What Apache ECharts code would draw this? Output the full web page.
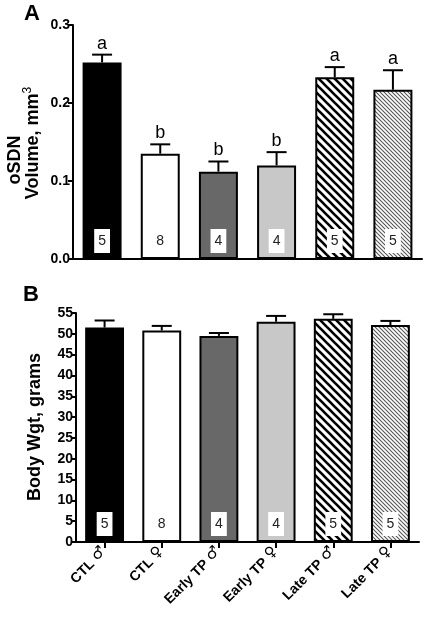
<!DOCTYPE html>
<html><head><meta charset="utf-8">
<script src="https://cdn.jsdelivr.net/npm/echarts@6/dist/echarts.min.js"></script>
<style>html,body{margin:0;padding:0;background:#fff}#c{width:425px;height:625px}</style>
</head><body><div id="c"></div>
<script>
var categories = ['CTL ♂', 'CTL ♀', 'Early TP ♂', 'Early TP ♀', 'Late TP ♂', 'Late TP ♀'];
var volumeMean = [0.252, 0.135, 0.112, 0.120, 0.233, 0.217];
var volumeErr  = [0.010, 0.012, 0.013, 0.017, 0.013, 0.025];
var volumeLetters = ['a', 'b', 'b', 'b', 'a', 'a'];
var weightMean = [51.5, 50.8, 49.5, 52.9, 53.6, 52.1];
var weightErr  = [1.7, 1.1, 0.7, 1.4, 1.1, 1.0];
var groupN = [5, 8, 4, 4, 5, 5];
var volumeTicks = { min: 0, max: 0.3, interval: 0.1 };
var weightTicks = { min: 0, max: 55, interval: 5 };

var FONT = '"Liberation Sans", Arial, sans-serif';
function stripes(size, lw, color) {
  var c = document.createElement('canvas');
  c.width = size; c.height = size;
  var ctx = c.getContext('2d');
  ctx.fillStyle = '#fff'; ctx.fillRect(0, 0, size, size);
  ctx.strokeStyle = color; ctx.lineWidth = lw;
  [-size, 0, size].forEach(function (o) {
    ctx.beginPath(); ctx.moveTo(o - 1, -1); ctx.lineTo(o + size + 1, size + 1); ctx.stroke();
  });
  return { image: c, repeat: 'repeat' };
}
var fills = ['#000', '#fff', '#686868', '#c8c8c8', stripes(8, 2.6, '#000'), stripes(4, 1.1, '#555')];

function barData(vals) {
  return vals.map(function (v, i) {
    return { value: v, itemStyle: { color: fills[i], borderColor: '#000', borderWidth: 2 } };
  });
}
function errData(mean, err) {
  return mean.map(function (m, i) { return [i, m, m + err[i]]; });
}
function errRender(letters) {
  return function (params, api) {
    var i = api.value(0);
    var b = api.coord([i, api.value(1)]);
    var t = api.coord([i, api.value(2)]);
    var ch = [
      { type: 'line', shape: { x1: b[0], y1: b[1], x2: t[0], y2: t[1] }, style: { stroke: '#000', lineWidth: 2 } },
      { type: 'line', shape: { x1: t[0] - 10, y1: t[1], x2: t[0] + 10, y2: t[1] }, style: { stroke: '#000', lineWidth: 2 } }
    ];
    if (letters) {
      ch.push({ type: 'text', x: t[0], y: t[1] - 2,
        style: { text: letters[params.dataIndex], textAlign: 'center', textVerticalAlign: 'bottom',
          font: '18px ' + FONT, fill: '#000' } });
    }
    return { type: 'group', children: ch };
  };
}
var nLabel = {
  show: true, position: 'insideBottom', distance: 6,
  formatter: function (p) { return String(groupN[p.dataIndex]); },
  backgroundColor: '#fff', padding: [5, 4, 5, 4], color: '#222',
  fontSize: 14, fontFamily: FONT
};
var axisLineStyle = { lineStyle: { color: '#000', width: 2 } };
var yLabel = { color: '#000', fontWeight: 'bold', fontSize: 14, margin: 3, fontFamily: FONT };

var chart = echarts.init(document.getElementById('c'));
chart.setOption({
  animation: false,
  grid: [
    { left: 73, right: 3, top: 25, height: 234 },
    { left: 76, right: 6, top: 313, height: 229 }
  ],
  xAxis: [
    { gridIndex: 0, type: 'category', data: categories, axisLine: axisLineStyle, axisTick: { show: false }, axisLabel: { show: false } },
    { gridIndex: 1, type: 'category', data: categories, axisLine: axisLineStyle,
      axisTick: { show: true, alignWithLabel: true, length: 6, lineStyle: { width: 2, color: '#000' } },
      axisLabel: { rotate: 45, margin: 8, interval: 0,
        formatter: function (v) {
          var k = v.lastIndexOf(' ');
          return '{t|' + v.slice(0, k) + ' }{s|' + v.slice(k + 1) + '}';
        },
        rich: {
          t: { color: '#000', fontWeight: 'bold', fontSize: 14, fontFamily: FONT },
          s: { color: '#000', fontWeight: 'bold', fontSize: 15, fontFamily: '"DejaVu Sans", sans-serif', verticalAlign: 'top', lineHeight: 18 }
        } } }
  ],
  yAxis: [
    { gridIndex: 0, type: 'value', min: volumeTicks.min, max: volumeTicks.max, interval: volumeTicks.interval,
      axisLine: { show: true, lineStyle: { color: '#000', width: 2 } },
      axisTick: { show: true, length: 5, lineStyle: { width: 2, color: '#000' } },
      splitLine: { show: false },
      axisLabel: Object.assign({}, yLabel, { formatter: function (v) { return v.toFixed(1); } }) },
    { gridIndex: 1, type: 'value', min: weightTicks.min, max: weightTicks.max, interval: weightTicks.interval,
      axisLine: { show: true, lineStyle: { color: '#000', width: 2 } },
      axisTick: { show: true, length: 5, lineStyle: { width: 2, color: '#000' } },
      splitLine: { show: false },
      axisLabel: yLabel }
  ],
  series: [
    { type: 'bar', xAxisIndex: 0, yAxisIndex: 0, data: barData(volumeMean), barWidth: '67%', label: nLabel, z: 2 },
    { type: 'custom', xAxisIndex: 0, yAxisIndex: 0, data: errData(volumeMean, volumeErr), renderItem: errRender(volumeLetters), z: 3, clip: false },
    { type: 'bar', xAxisIndex: 1, yAxisIndex: 1, data: barData(weightMean), barWidth: '68%', label: nLabel, z: 2 },
    { type: 'custom', xAxisIndex: 1, yAxisIndex: 1, data: errData(weightMean, weightErr), renderItem: errRender(null), z: 3, clip: false }
  ],
  graphic: [
    { type: 'text', x: 32, y: 14, style: { text: 'A', font: 'bold 22px ' + FONT, fill: '#000', textAlign: 'center', textVerticalAlign: 'middle' } },
    { type: 'text', x: 31, y: 295, style: { text: 'B', font: 'bold 22px ' + FONT, fill: '#000', textAlign: 'center', textVerticalAlign: 'middle' } },
    { type: 'text', x: 15, y: 160, rotation: Math.PI / 2, style: { text: 'oSDN', font: 'bold 18px ' + FONT, fill: '#000', textAlign: 'center', textVerticalAlign: 'middle' } },
    { type: 'text', x: 32, y: 143, rotation: Math.PI / 2, style: { text: '{m|Volume, mm}{s|3}', textAlign: 'center', textVerticalAlign: 'middle',
        rich: { m: { font: 'bold 18px ' + FONT, fill: '#000', lineHeight: 20, verticalAlign: 'bottom' },
                s: { font: '12px ' + FONT, fill: '#000', lineHeight: 20, verticalAlign: 'top' } } } },
    { type: 'text', x: 35, y: 427, rotation: Math.PI / 2, style: { text: 'Body Wgt, grams', font: 'bold 18px ' + FONT, fill: '#000', textAlign: 'center', textVerticalAlign: 'middle' } }
  ]
});
</script></body></html>
